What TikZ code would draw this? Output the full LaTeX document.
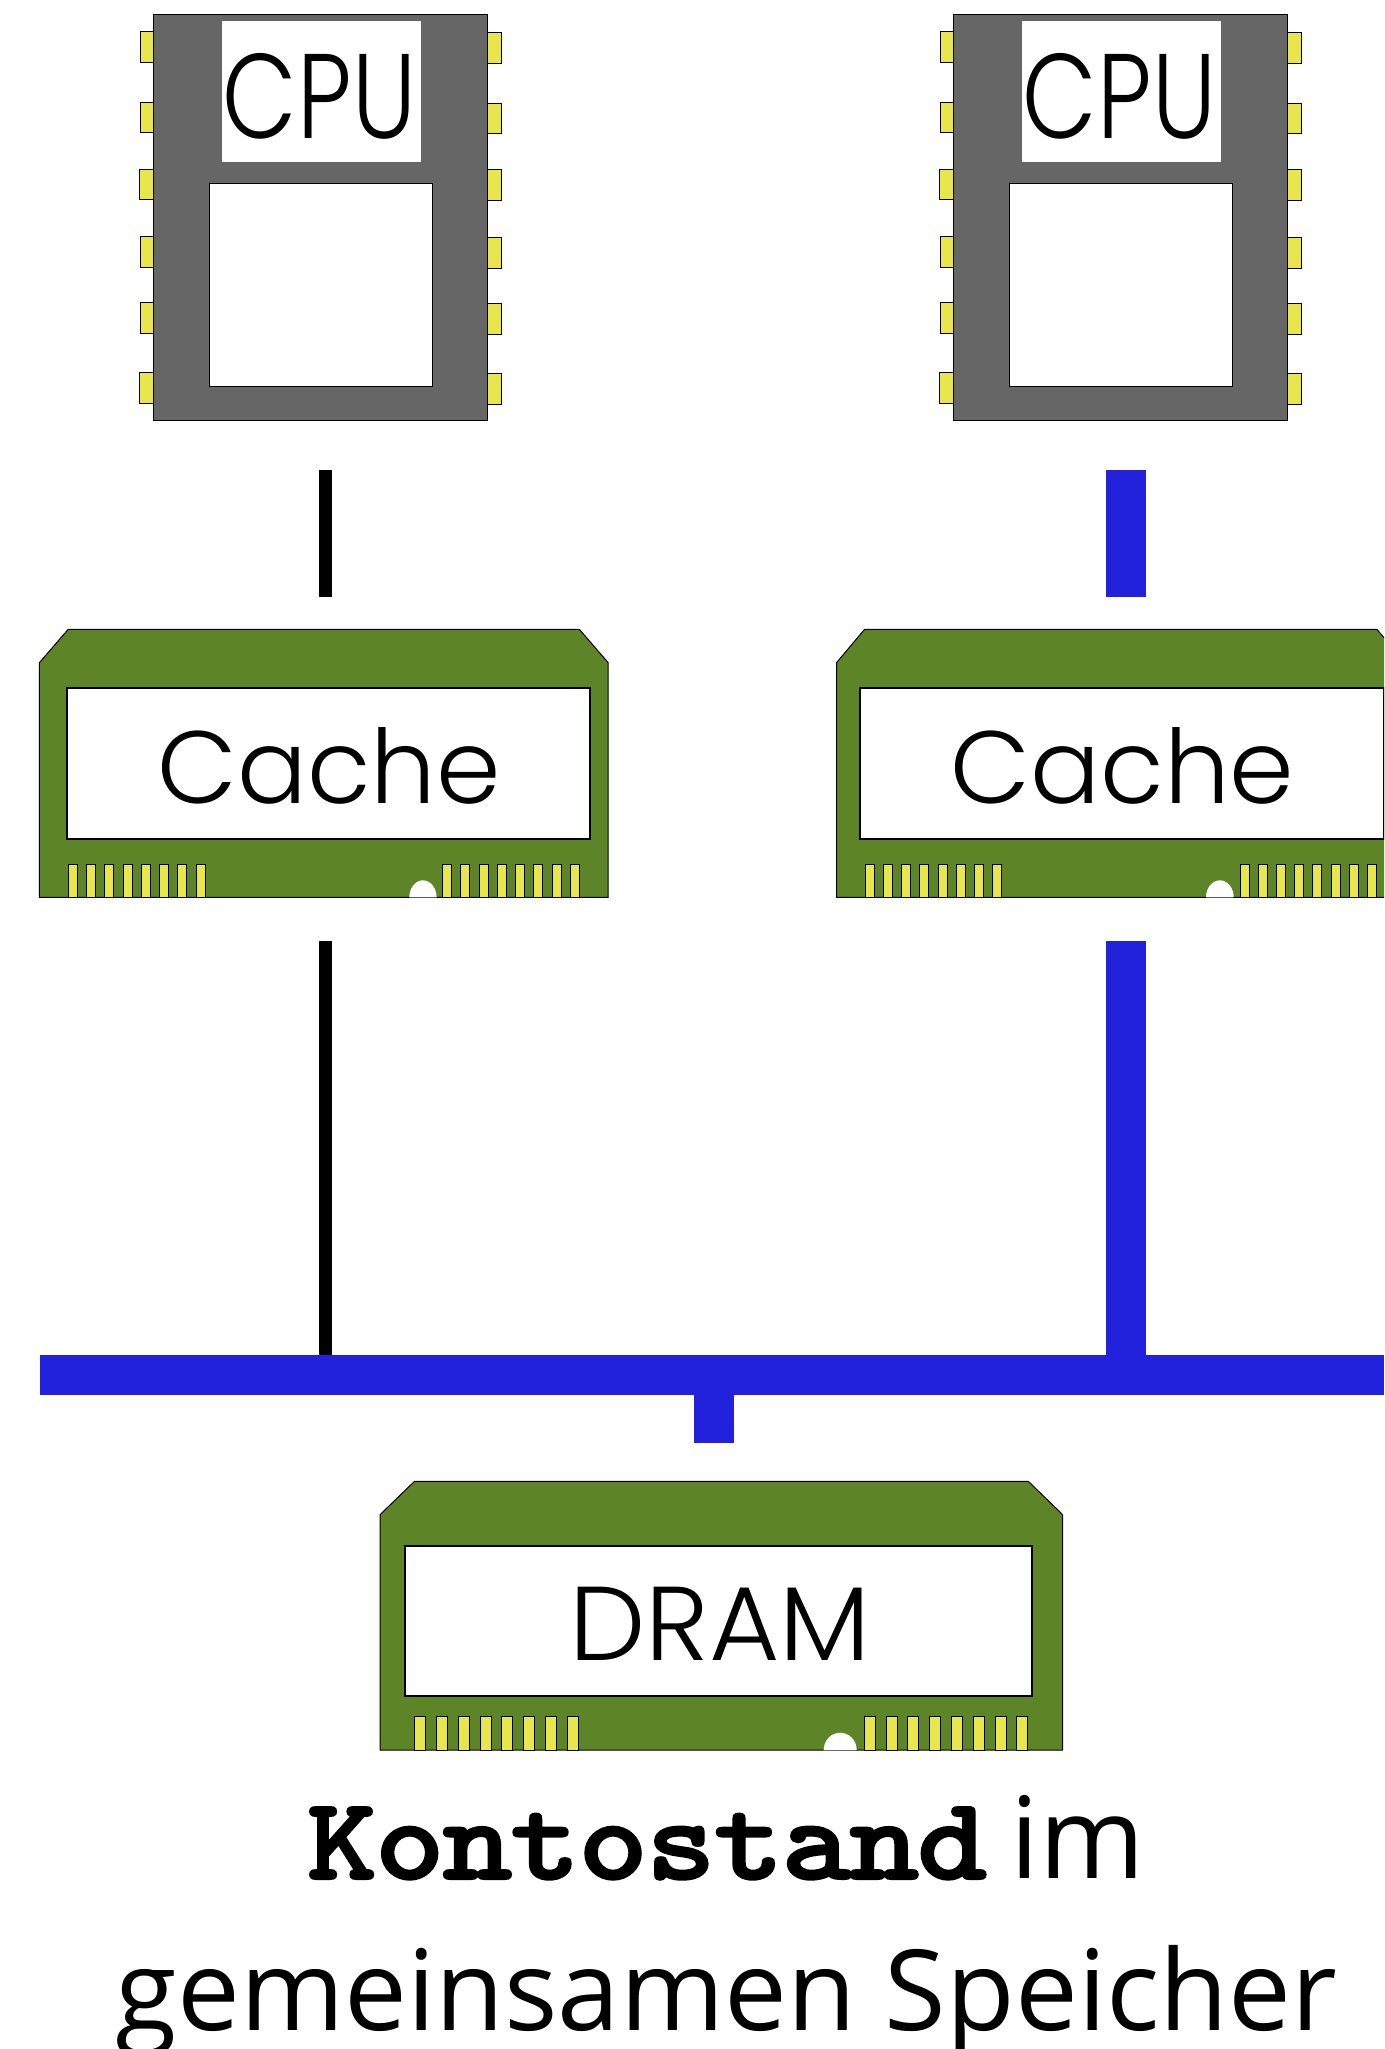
\documentclass[tikz,border=0pt]{standalone}
\usepackage{fontspec}
\setmainfont{Open Sans}
\newfontfamily\kontofont{Latin Modern Mono}[FakeBold=3.5]
\newfontfamily\gothic{Poppins}[UprightFont=* Light]
\definecolor{chipgreen}{HTML}{5E8428}
\definecolor{pinyellow}{HTML}{E8E64B}
\definecolor{cpugrey}{HTML}{666666}
\definecolor{busblue}{HTML}{2222DD}
\tikzset{
  chipbody/.style={fill=chipgreen,draw=black,line width=1pt},
  chipwindow/.style={fill=white,draw=black,line width=2pt},
  cpubody/.style={fill=cpugrey,draw=black,line width=1pt},
  cpuwindow/.style={fill=white,draw=black,line width=1pt},
  cpulabelbox/.style={fill=white,draw=none},
  pinbox/.style={fill=pinyellow,draw=black,line width=0.6pt},
  notchshape/.style={fill=white,draw=none},
  glabel/.style={inner sep=0pt,outer sep=0pt,text=black},
  thinbar/.style={draw=black,line width=13.6pt},
  widebar/.style={draw=busblue,line width=40pt},
}
\newcommand{\fitted}[3]{\resizebox{#1pt}{#2pt}{\gothic #3}}
% cpu drawing, local coordinates are those of the left CPU
\newcommand{\cpuchip}[2]{%
  \begin{scope}[xshift=#1pt]
    \path[cpubody] (153.7,14.5) rectangle (487,420);
    \foreach \a/\b/\c in {140/31.7/62.3,140.3/102/132.7,139.5/169/199.3,140.3/236.3/267,140.3/302.3/333,139.5/372.7/403.3}
      \path[pinbox] (\a,\b) rectangle (153.7,\c);
    \foreach \b/\c/\d in {32.7/63.3/501.7,103/133.7/501.7,169.7/200.3/501,237.3/268/501.7,303.3/334/501.7,373.3/404/501}
      \path[pinbox] (487,\b) rectangle (\d,\c);
    \path[cpulabelbox] (221.7,21) rectangle (421,161.7);
    \path[cpuwindow] (209.3,183.3) rectangle (432.3,386.7);
    \node[glabel] (#2) at (319.5,96) {\fitted{193}{85}{CPU}};
  \end{scope}}
\begin{document}
\begin{tikzpicture}[x=1pt,y=-1pt]
\useasboundingbox (0,0) rectangle (1384,2049);
\clip (0,0) rectangle (1384,2049);

\cpuchip{0}{cpuA}
\cpuchip{800}{cpuB}

% left cache
\path[chipbody] (39.4,662.7) -- (68.2,629.3) -- (579.3,629.3) -- (608.2,662.7) -- (608.2,897.3) -- (39.4,897.3) -- cycle;
\path[chipwindow] (66.6,688.3) rectangle (589.6,838.7);
\foreach \i in {0,...,7} {
  \path[pinbox] ({68.2+18.24*\i},864) rectangle ({77.2+18.24*\i},897.3);
  \path[pinbox] ({442.5+18.24*\i},864) rectangle ({451.5+18.24*\i},897.3);
}
\path[notchshape] (409.3,897.3) arc[start angle=180,end angle=360,x radius=13.65,y radius=17] -- cycle;
\node[glabel] (cacheA) at (329,766) {\fitted{343}{76}{Cache}};

% right cache
\path[chipbody] (836.5,662.7) -- (864.6,629.3) -- (1376.8,629.3) -- (1405.5,662.7) -- (1405.5,897.3) -- (836.5,897.3) -- cycle;
\path[chipwindow] (860.3,688.3) rectangle (1383.5,838.7);
\foreach \i in {0,...,7} {
  \path[pinbox] ({865+18.2*\i},864) rectangle ({874+18.2*\i},897.3);
  \path[pinbox] ({1239.8+18.2*\i},864) rectangle ({1248.8+18.2*\i},897.3);
}
\path[notchshape] (1206,897.3) arc[start angle=180,end angle=360,x radius=13.85,y radius=17] -- cycle;
\node[glabel] (cacheB) at (1122.5,766) {\fitted{344}{76}{Cache}};

% DRAM
\path[chipbody] (380,1514.7) -- (414.5,1481.3) -- (1028.3,1481.3) -- (1062.7,1514.7) -- (1062.7,1750) -- (380,1750) -- cycle;
\path[chipwindow] (404.9,1545.7) rectangle (1032.4,1696);
\foreach \i in {0,...,7} {
  \path[pinbox] ({414.5+21.8*\i},1716.7) rectangle ({425.5+21.8*\i},1750);
  \path[pinbox] ({864+21.8*\i},1716.7) rectangle ({875+21.8*\i},1750);
}
\path[notchshape] (823.7,1750) arc[start angle=180,end angle=360,x radius=16.5,y radius=17.3] -- cycle;
\node[glabel] (dram) at (720,1623.3) {\fitted{301}{73.3}{DRAM}};

% connectors
\coordinate (a1) at (325.5,470.3);
\coordinate (a2) at (325.5,596.7);
\coordinate (a3) at (325.5,941);
\coordinate (a4) at (325.5,1356);
\coordinate (b1) at (1126,470.3);
\coordinate (b2) at (1126,596.7);
\coordinate (b3) at (1126,941);
\coordinate (b4) at (1126,1356);
\coordinate (busL) at (39.7,1375.3);
\coordinate (busR) at (1384,1375.3);
\coordinate (busS) at (714.3,1395);
\coordinate (dramS) at (714.3,1443.3);
\draw[thinbar] (a1) -- (a2);
\draw[thinbar] (a3) -- (a4);
\draw[widebar] (b1) -- (b2);
\draw[widebar] (b3) -- (b4);
\draw[widebar] (busL) -- (busR);
\draw[widebar] (busS) -- (dramS);

% caption
\node[glabel,anchor=base] (capA) at (647,1878) {\resizebox{678pt}{70pt}{\kontofont Kontostand}};
\node[glabel,anchor=base] (capB) at (1077.5,1878) {\resizebox{134pt}{!}{im}};
\node[glabel,anchor=base] (capC) at (726.5,2030.7) {\resizebox{1220pt}{!}{gemeinsamen Speicher}};
\end{tikzpicture}
\end{document}
